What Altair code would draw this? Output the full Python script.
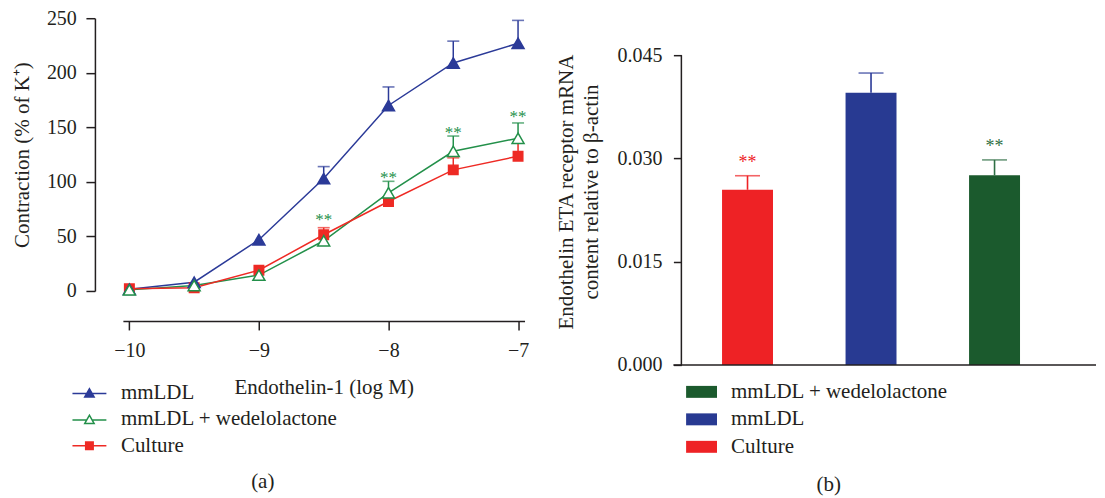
import altair as alt
import pandas as pd

FONT = "Liberation Serif"
INK = "#231F20"

# ---------------- Panel (a) data ----------------
log_conc = [-10, -9.5, -9, -8.5, -8, -7.5, -7]
series_a = ["mmLDL", "mmLDL + wedelolactone", "Culture"]
mmldl = [1.6, 8, 47, 103, 170, 209, 227]
mmldl_err = [None, None, None, 114, 187, 229, 248]
wed = [1, 5, 14.5, 46, 90, 128, 140]
wed_err = [None, None, None, None, 100.5, 142, 154]
culture = [2, 3, 19, 51.5, 82, 111, 123.5]
culture_err = [None, None, None, 58, None, 122, 135.5]
star_a_x = [-8.5, -8, -7.5, -7]
star_a_y = [69, 107, 148, 163]
x_ticks_a = [-10, -9, -8, -7]
y_ticks_a = [0, 50, 100, 150, 200, 250]

# ---------------- Panel (b) data ----------------
groups_b = ["Culture", "mmLDL", "mmLDL + wedelolactone"]
pos_b = [1, 2, 3]
mrna = [0.02546, 0.03955, 0.02756]
mrna_err = [0.0275, 0.04243, 0.0298]
star_b_groups = ["Culture", "mmLDL + wedelolactone"]
star_b_y = [0.0300, 0.0322]
legend_order_b = ["mmLDL + wedelolactone", "mmLDL", "Culture"]
y_ticks_b = [0.000, 0.015, 0.030, 0.045]

# ---------------- styles ----------------
col_a = ["#2B3A98", "#23904A", "#EE2A24"]
fill_a = ["#2B3A98", "#FFFFFF", "#EE2A24"]
bar_cols = ["#1B5A2D", "#283A92", "#EE2225"]        # in legend_order_b order
err_cols_b = ["#EE2225", "#2B3A98", "#2F6F45"]      # in groups_b order

W_A, H_A = 402, 273
W_B, H_B = 415, 347

# legend symbols (all filled shapes): short line with the marker on it
sym_tri_filled = "M-2.83,-0.025H2.83V0.225H-2.83Z M0,-0.95L1,0.8L-1,0.8Z"
sym_tri_open = ("M-2.83,-0.025H-0.55V0.225H-2.83Z M0.55,-0.025H2.83V0.225H0.55Z "
                "M0,-0.95L1,0.8L-1,0.8Z M0,-0.446L-0.569,0.55L0.569,0.55Z")
sym_sq = "M-2.83,-0.125H2.83V0.125H-2.83Z M-0.75,-0.75H0.75V0.75H-0.75Z"
legend_shapes_a = [sym_tri_filled, sym_tri_open, sym_sq]
rect_path = "M-2.38,-0.92H2.38V0.92H-2.38Z"

# ---------------- Panel (a) ----------------
rows = []
for name, vals, errs in zip(series_a, [mmldl, wed, culture], [mmldl_err, wed_err, culture_err]):
    for x, v, e in zip(log_conc, vals, errs):
        rows.append({"series": name, "x": x, "y": v, "err": e})
df_a = pd.DataFrame(rows)
df_stars_a = pd.DataFrame({"x": star_a_x, "y": star_a_y})

xs_a = alt.Scale(domain=[-10.05, -6.95], nice=False, zero=False)
ys_a = alt.Scale(domain=[0, 250], nice=False)

x_a = alt.X("x:Q", scale=xs_a, axis=alt.Axis(
    values=x_ticks_a, format="d", offset=30, tickSize=9, labelPadding=11,
    title="Endothelin-1 (log M)", titlePadding=16))
y_a = alt.Y("y:Q", scale=ys_a, axis=alt.Axis(
    values=y_ticks_a, offset=28, tickSize=9, labelPadding=9.6,
    title="Contraction (% of K⁺)", titlePadding=14))

legend_a = alt.Legend(
    title=None, orient="none", legendX=-44, legendY=364.5,
    symbolSize=144, symbolStrokeWidth=0, labelOffset=21, rowPadding=4.5,
    labelFontSize=21, labelFont=FONT, labelColor=INK, labelFontWeight="normal",
    labelLimit=400, padding=0)

stroke_a = alt.Stroke("series:N", scale=alt.Scale(domain=series_a, range=col_a), legend=None)
fill_enc_a = alt.Fill("series:N", scale=alt.Scale(domain=series_a, range=fill_a), legend=None)
color_leg_a = alt.Color("series:N", scale=alt.Scale(domain=series_a, range=col_a), legend=legend_a)
shape_a = alt.Shape("series:N", scale=alt.Scale(domain=series_a, range=legend_shapes_a), legend=legend_a)

base_a = alt.Chart(df_a)
# legend-only layer (no rows drawn): supplies the line+marker legend symbols
legend_layer_a = base_a.transform_filter("false").mark_point(
    filled=True, size=144, opacity=1).encode(
    x="x:Q", y="y:Q", color=color_leg_a, shape=shape_a)
lines_a = base_a.mark_line(strokeWidth=1.5).encode(x=x_a, y=y_a, stroke=stroke_a)
errs_a = base_a.transform_filter("isValid(datum.err)").mark_rule(strokeWidth=1.5).encode(
    x="x:Q", y="y:Q", y2="err:Q", stroke=stroke_a)
caps_a = base_a.transform_filter("isValid(datum.err)").mark_tick(
    orient="horizontal", size=12, thickness=1.6).encode(x="x:Q", y="err:Q", color=color_leg_a)
tri_a = base_a.transform_filter(
    alt.FieldOneOfPredicate(field="series", oneOf=series_a[:2])).mark_point(
    shape="triangle-up", size=144, strokeWidth=1.5, opacity=1).encode(
    x="x:Q", y="y:Q", stroke=stroke_a, fill=fill_enc_a)
sq_a = base_a.transform_filter(
    alt.FieldOneOfPredicate(field="series", oneOf=series_a[2:])).mark_point(
    shape="square", size=90, strokeWidth=1.5, opacity=1).encode(
    x="x:Q", y="y:Q", stroke=stroke_a, fill=fill_enc_a)
stars_a = alt.Chart(df_stars_a).mark_text(
    text="**", fontSize=17, dy=4, color=col_a[1], font=FONT).encode(x="x:Q", y="y:Q")

left = alt.layer(legend_layer_a, lines_a, errs_a, caps_a, sq_a, tri_a, stars_a).properties(
    width=W_A, height=H_A,
    title=alt.TitleParams("(a)", orient="bottom", anchor="middle", dx=-61, offset=15,
                          fontSize=21, font=FONT, fontWeight="normal", color=INK))

# ---------------- Panel (b) ----------------
df_b = pd.DataFrame({"group": groups_b, "pos": pos_b, "val": mrna, "err": mrna_err})
pos_lookup = dict(zip(groups_b, pos_b))
df_stars_b = pd.DataFrame({"group": star_b_groups,
                           "pos": [pos_lookup[g] for g in star_b_groups],
                           "val": star_b_y})
df_axis_b = pd.DataFrame({"val": [y_ticks_b[0]], "top": [y_ticks_b[-1]]})

xs_b = alt.Scale(domain=[0.505, 3.781], nice=False, zero=False)
ys_b = alt.Scale(domain=[0, 0.0504], nice=False)

legend_b = alt.Legend(
    title=None, orient="none", legendX=9.7, legendY=363.5,
    symbolType=rect_path, symbolSize=169,
    labelOffset=19, rowPadding=5.5, labelFontSize=21, labelFont=FONT, labelColor=INK,
    labelFontWeight="normal", labelLimit=400, padding=0)

y_b = alt.Y("val:Q", scale=ys_b, axis=alt.Axis(
    values=y_ticks_b, format=".3f", domain=False, tickSize=8, labelPadding=11.5,
    title=["Endothelin ETA receptor mRNA", "content relative to β-actin"],
    titlePadding=15, titleLineHeight=25))

bars_b = alt.Chart(df_b).mark_bar(orient="vertical", size=51).encode(
    x=alt.X("pos:Q", scale=xs_b, axis=None), y=y_b,
    fill=alt.Fill("group:N", scale=alt.Scale(domain=legend_order_b, range=bar_cols), legend=legend_b))
color_b = alt.Color("group:N", scale=alt.Scale(domain=groups_b, range=err_cols_b), legend=None)
errs_b = alt.Chart(df_b).mark_rule(strokeWidth=1.6).encode(
    x="pos:Q", y="val:Q", y2="err:Q", color=color_b)
caps_b = alt.Chart(df_b).mark_tick(orient="horizontal", size=25, thickness=1.6).encode(
    x="pos:Q", y=alt.Y("err:Q"), color=color_b)
stars_b = alt.Chart(df_stars_b).mark_text(text="**", fontSize=18, dy=4, font=FONT).encode(
    x="pos:Q", y="val:Q", color=color_b)
yline_b = alt.Chart(df_axis_b).mark_rule(color=INK, strokeWidth=1.5).encode(
    x=alt.value(0), y="val:Q", y2="top:Q")
xline_b = alt.Chart(df_axis_b).mark_rule(color=INK, strokeWidth=1.5).encode(
    x=alt.value(-8), x2=alt.value(W_B), y="val:Q")

right = alt.layer(bars_b, errs_b, caps_b, stars_b, yline_b, xline_b).properties(
    width=W_B, height=H_B,
    title=alt.TitleParams("(b)", orient="bottom", anchor="middle", dx=-60, offset=17,
                          fontSize=21, font=FONT, fontWeight="normal", color=INK))

chart = alt.hconcat(left, right, spacing=157, bounds="flush").resolve_scale(
    color="independent", fill="independent", stroke="independent", shape="independent"
).resolve_legend(
    color="independent", fill="independent", stroke="independent", shape="independent"
).properties(
    padding={"left": 3, "top": 0, "right": 0, "bottom": 0}
).configure(font=FONT).configure_view(stroke=None).configure_axis(
    grid=False, labelFont=FONT, titleFont=FONT, labelFontSize=20, titleFontSize=21,
    labelColor=INK, titleColor=INK, titleFontWeight="normal",
    domainColor=INK, tickColor=INK, domainWidth=1.5, tickWidth=1.5
).configure_legend(
    labelFont=FONT, labelFontSize=21, labelColor=INK, labelFontWeight="normal"
)

chart.save("out.html", embed_options={"renderer": "svg", "actions": False})
